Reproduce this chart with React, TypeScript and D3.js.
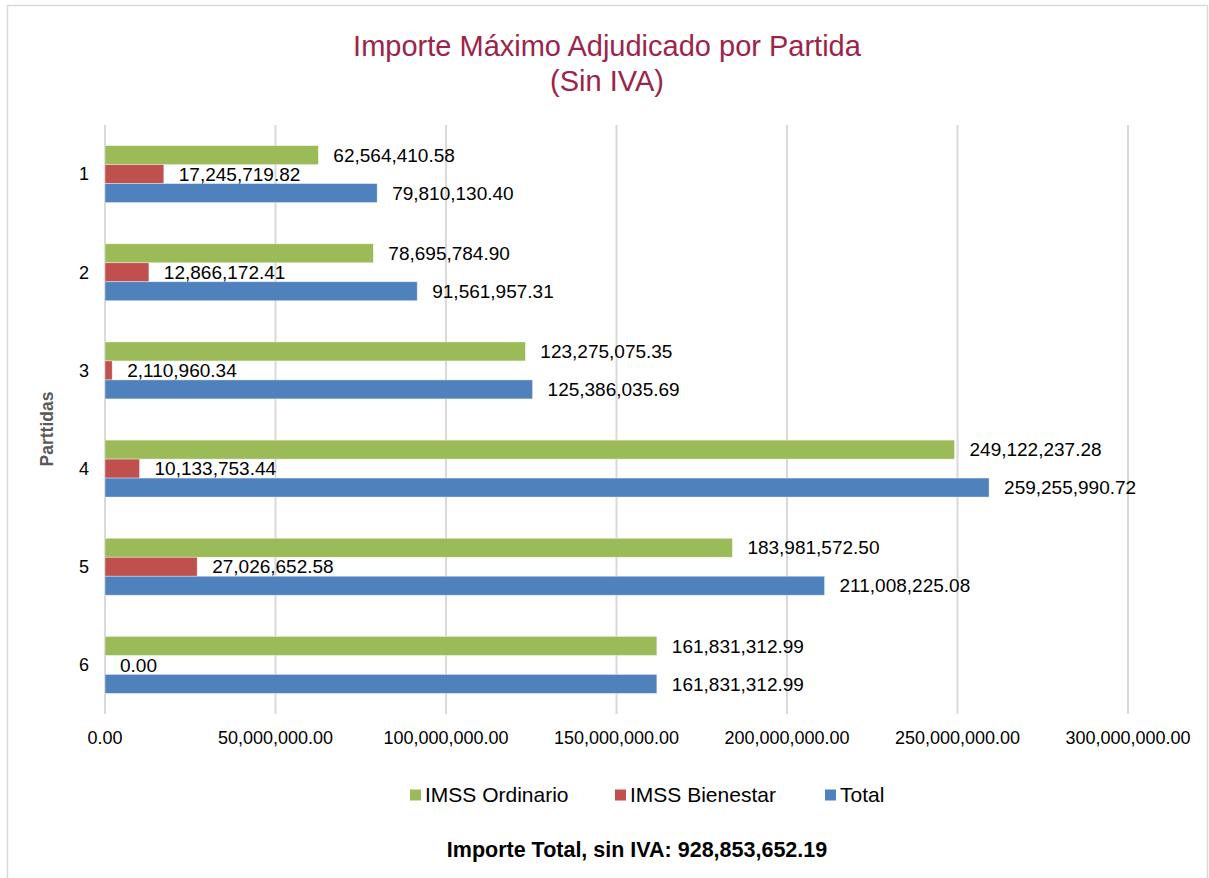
import React from "react";
import * as d3 from "d3";

const partidas = ["1", "2", "3", "4", "5", "6"];
const ordinario = [62564410.58, 78695784.9, 123275075.35, 249122237.28, 183981572.5, 161831312.99];
const bienestar = [17245719.82, 12866172.41, 2110960.34, 10133753.44, 27026652.58, 0];
const total = [79810130.4, 91561957.31, 125386035.69, 259255990.72, 211008225.08, 161831312.99];
const seriesNames = ["IMSS Ordinario", "IMSS Bienestar", "Total"];
const seriesColors = ["#9BBB59", "#C0504D", "#4F81BD"];
const xTicks = [0, 50000000, 100000000, 150000000, 200000000, 250000000, 300000000];
const importeTotal = "928,853,652.19";

export default function App() {
  const svgRef = React.useRef(null);
  const width = 1209;
  const height = 878;

  React.useEffect(() => {
    const svg = d3.select(svgRef.current);
    svg.selectAll("*").remove();

    const font = "'Liberation Sans', Arial, sans-serif";
    const fmt = d3.format(",.2f");

    // chart frame
    svg.append("rect")
      .attr("x", 7.5).attr("y", 5.5)
      .attr("width", 1200).attr("height", 900)
      .attr("fill", "#fff").attr("stroke", "#D9D9D9").attr("stroke-width", 1.5);

    // title
    const title = svg.append("text")
      .attr("text-anchor", "middle")
      .attr("font-family", font)
      .attr("font-size", 29)
      .attr("fill", "#9D2449");
    title.append("tspan").attr("x", 607).attr("y", 56).text("Importe Máximo Adjudicado por Partida");
    title.append("tspan").attr("x", 607).attr("y", 91).text("(Sin IVA)");

    const xScale = d3.scaleLinear().domain([0, 300000000]).range([105, 1128]);
    const yScale = d3.scaleBand().domain(partidas).range([125, 714]).paddingInner(0.42).paddingOuter(0.21);
    const sub = d3.scaleBand().domain(seriesNames).range([0, yScale.bandwidth()]);

    // gridlines
    svg.append("g")
      .selectAll("line")
      .data(xTicks)
      .enter()
      .append("line")
      .attr("x1", d => xScale(d)).attr("x2", d => xScale(d))
      .attr("y1", 125).attr("y2", 714)
      .attr("stroke", "#D9D9D9").attr("stroke-width", 2);

    // x tick labels
    svg.append("g")
      .selectAll("text")
      .data(xTicks)
      .enter()
      .append("text")
      .attr("x", d => xScale(d))
      .attr("y", 744)
      .attr("text-anchor", "middle")
      .attr("font-family", font)
      .attr("font-size", 18)
      .attr("fill", "#000")
      .text(d => fmt(d));

    // y tick labels
    svg.append("g")
      .selectAll("text")
      .data(partidas)
      .enter()
      .append("text")
      .attr("x", 89)
      .attr("y", d => yScale(d) + yScale.bandwidth() / 2)
      .attr("dy", "0.35em")
      .attr("text-anchor", "end")
      .attr("font-family", font)
      .attr("font-size", 18)
      .attr("fill", "#000")
      .text(d => d);

    // y axis title
    svg.append("text")
      .attr("transform", "translate(53,429) rotate(-90)")
      .attr("text-anchor", "middle")
      .attr("font-family", font)
      .attr("font-size", 17.5)
      .attr("font-weight", "bold")
      .attr("fill", "#595959")
      .text("Parttidas");

    const rows = partidas.map((p, i) => ({
      p,
      vals: [ordinario[i], bienestar[i], total[i]],
    }));

    const groups = svg.append("g")
      .selectAll("g")
      .data(rows)
      .enter()
      .append("g")
      .attr("transform", d => `translate(0,${yScale(d.p)})`);

    groups.selectAll("rect")
      .data(d => d.vals.map((v, k) => ({ v, k })))
      .enter()
      .append("rect")
      .attr("x", xScale(0))
      .attr("y", d => sub(seriesNames[d.k]))
      .attr("width", d => xScale(d.v) - xScale(0))
      .attr("height", sub.bandwidth())
      .attr("fill", d => seriesColors[d.k])
      .attr("stroke", d => (d.v > 0 ? "#fff" : "none"))
      .attr("stroke-opacity", 0.5)
      .attr("stroke-width", 0.75);

    groups.selectAll("text")
      .data(d => d.vals.map((v, k) => ({ v, k })))
      .enter()
      .append("text")
      .attr("x", d => xScale(d.v) + 15)
      .attr("y", d => sub(seriesNames[d.k]) + sub.bandwidth() / 2)
      .attr("dy", "0.35em")
      .attr("font-family", font)
      .attr("font-size", 19)
      .attr("fill", "#000")
      .text(d => fmt(d.v));

    // legend
    const legendX = [410, 615, 825];
    const legend = svg.append("g")
      .selectAll("g")
      .data(seriesNames)
      .enter()
      .append("g")
      .attr("transform", (d, i) => `translate(${legendX[i]},795)`);
    legend.append("rect")
      .attr("x", 0).attr("y", -5.5)
      .attr("width", 11).attr("height", 11)
      .attr("fill", (d, i) => seriesColors[i]);
    legend.append("text")
      .attr("x", 15)
      .attr("dy", "0.35em")
      .attr("font-family", font)
      .attr("font-size", 21)
      .attr("fill", "#000")
      .text(d => d);

    // total note
    svg.append("text")
      .attr("x", 637)
      .attr("y", 857)
      .attr("text-anchor", "middle")
      .attr("font-family", font)
      .attr("font-size", 21.5)
      .attr("font-weight", "bold")
      .attr("fill", "#000")
      .text(`Importe Total, sin IVA: ${importeTotal}`);
  }, []);

  return (
    <svg
      ref={svgRef}
      width={width}
      height={height}
      style={{ position: "absolute", left: 0, top: 0, background: "#fff" }}
    />
  );
}
